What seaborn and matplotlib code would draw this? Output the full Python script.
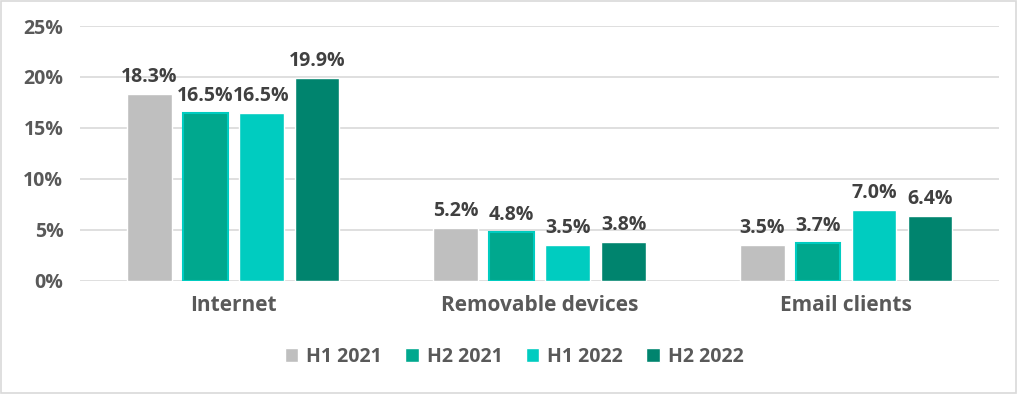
import pandas as pd
import matplotlib.pyplot as plt
import seaborn as sns
from matplotlib.patches import Rectangle

# data
categories = ['Internet', 'Removable devices', 'Email clients']
periods = ['H1 2021', 'H2 2021', 'H1 2022', 'H2 2022']
h1_2021 = [18.3, 5.2, 3.5]
h2_2021 = [16.5, 4.8, 3.7]
h1_2022 = [16.5, 3.5, 7.0]
h2_2022 = [19.9, 3.8, 6.4]

colors = ['#BFBFBF', '#00A88E', '#00CCC0', '#00846E']

rows = []
for p, vals in zip(periods, [h1_2021, h2_2021, h1_2022, h2_2022]):
    for c, v in zip(categories, vals):
        rows.append({'category': c, 'period': p, 'value': v})
df = pd.DataFrame(rows)

sns.set_style('white')
plt.rcParams['font.family'] = ['Open Sans', 'DejaVu Sans']

fig = plt.figure(figsize=(10.18, 3.94), dpi=100)
ax = fig.add_axes([0.0786, 0.287, 0.903, 0.647])

sns.barplot(data=df, x='category', y='value', hue='period', order=categories,
            hue_order=periods, palette=colors, width=0.73, gap=0.2,
            saturation=1, ax=ax, legend=True)

# H2 2021 bars carry a bright edge
for bar in ax.containers[1]:
    bar.set_edgecolor('#00CCC0')
    bar.set_linewidth(1.5)

for cont in ax.containers:
    ax.bar_label(cont, labels=[f'{v:.1f}%' for v in cont.datavalues],
                 padding=5, fontsize=14, fontweight='bold', color='#404040')

ax.set_ylim(0, 25)
ax.set_xlim(-0.5, 2.5)
ax.set_yticks(range(0, 26, 5))
ax.set_yticklabels([f'{t}%' for t in range(0, 26, 5)])
ax.yaxis.grid(True, color='#D9D9D9', linewidth=1.2)
ax.set_axisbelow(True)
for s in ax.spines.values():
    s.set_visible(False)
ax.tick_params(axis='y', length=0, pad=12, labelsize=14, labelcolor='#595959')
ax.tick_params(axis='x', length=0, pad=10, labelsize=15, labelcolor='#595959')
for lab in ax.get_xticklabels() + ax.get_yticklabels():
    lab.set_fontweight('bold')
ax.set_xlabel('')
ax.set_ylabel('')

handles, labels = ax.get_legend_handles_labels()
ax.legend_.remove()
leg = fig.legend(handles, labels, loc='center', bbox_to_anchor=(0.505, 0.094),
                 ncol=4, frameon=False, handlelength=0.7, handleheight=0.7,
                 columnspacing=1.2, handletextpad=0.4,
                 prop={'size': 14, 'weight': 'bold'})
for t in leg.get_texts():
    t.set_color('#595959')

fig.patches.append(Rectangle((0.001, 0.002), 0.997, 0.995, transform=fig.transFigure,
                             fill=False, edgecolor='#D9D9D9', linewidth=1.2))

fig.savefig('out.png', dpi=100)
